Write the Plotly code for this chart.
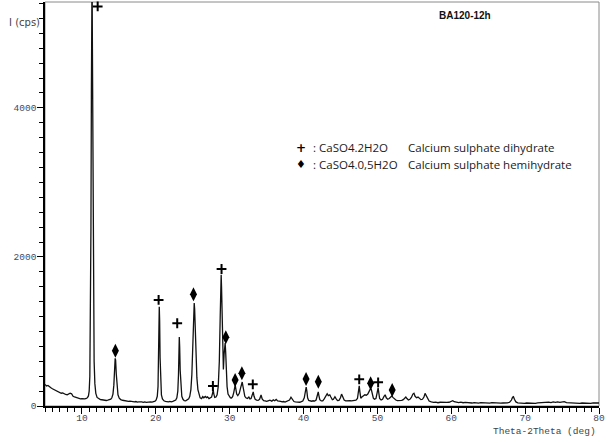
import plotly.graph_objects as go

# X-ray diffraction scan of sample BA120-12h: (2-theta in degrees, intensity in cps)
scan_05_12 = [
    (5.0, 290), (5.2, 268), (5.4, 275), (5.6, 252), (5.8, 244), (6.0, 231), (6.2, 222),
    (6.4, 211), (6.6, 205), (6.8, 189), (7.0, 183), (7.2, 171), (7.4, 176), (7.6, 161),
    (7.8, 155), (8.0, 149), (8.2, 158), (8.4, 172), (8.6, 164), (8.8, 131), (9.0, 121),
    (9.2, 113), (9.4, 106), (9.6, 101), (9.8, 96), (10.0, 99), (10.2, 92), (10.4, 95),
    (10.6, 101), (10.75, 112), (10.88, 135), (10.98, 200), (11.07, 400), (11.15, 1100),
    (11.22, 2400), (11.28, 4200), (11.33, 5600), (11.37, 5800), (11.42, 4800),
    (11.48, 2900), (11.55, 1400), (11.65, 600), (11.75, 300), (11.88, 170),
    (12.05, 115), (12.3, 92), (12.5, 86),
]
scan_12_21 = [
    (12.7, 84), (12.9, 78), (13.1, 81), (13.3, 74), (13.5, 78), (13.7, 83), (13.9, 91),
    (14.05, 110), (14.2, 160), (14.32, 280), (14.42, 480), (14.5, 640), (14.56, 615),
    (14.65, 430), (14.75, 250), (14.88, 150), (15.05, 105), (15.25, 86), (15.5, 77),
    (15.7, 72), (15.9, 66), (16.1, 70), (16.3, 62), (16.5, 64), (16.7, 58), (16.9, 61),
    (17.1, 55), (17.3, 60), (17.5, 52), (17.7, 56), (17.9, 50), (18.1, 54), (18.3, 49),
    (18.5, 55), (18.7, 48), (18.9, 52), (19.1, 50), (19.3, 56), (19.5, 52), (19.7, 58),
    (19.9, 64), (20.05, 80), (20.2, 130), (20.3, 260), (20.38, 600), (20.43, 1050),
    (20.47, 1330), (20.52, 1150), (20.58, 650), (20.66, 300), (20.76, 150), (20.9, 95),
]
scan_21_30 = [
    (21.1, 70), (21.3, 62), (21.5, 58), (21.7, 56), (21.9, 61), (22.1, 55), (22.3, 62),
    (22.5, 66), (22.7, 80), (22.85, 110), (22.98, 200), (23.07, 420), (23.13, 720),
    (23.18, 925), (23.23, 800), (23.3, 480), (23.4, 230), (23.52, 130), (23.68, 90),
    (23.85, 72), (24.05, 70), (24.25, 78), (24.45, 95), (24.6, 130), (24.75, 220),
    (24.88, 420), (24.98, 750), (25.07, 1100), (25.15, 1340), (25.2, 1380), (25.26, 1300),
    (25.35, 1000), (25.45, 650), (25.56, 380), (25.7, 220), (25.85, 140), (26.0, 110),
    (26.2, 100), (26.35, 125), (26.5, 110), (26.7, 128), (26.85, 112), (27.0, 122),
    (27.2, 100), (27.4, 110), (27.55, 120), (27.68, 170), (27.77, 215), (27.86, 160),
    (27.98, 115), (28.15, 120), (28.3, 150), (28.45, 260), (28.6, 600), (28.72, 1200),
    (28.8, 1650), (28.85, 1760), (28.9, 1600), (28.97, 1100), (29.05, 700), (29.15, 490),
    (29.25, 700), (29.33, 830), (29.39, 845), (29.46, 720), (29.55, 450), (29.65, 260),
    (29.78, 160), (29.95, 120),
]
scan_30_40 = [
    (30.1, 110), (30.25, 108), (30.4, 125), (30.55, 180), (30.68, 260), (30.75, 282),
    (30.82, 240), (30.95, 160), (31.1, 140), (31.3, 170), (31.5, 250), (31.62, 310),
    (31.7, 322), (31.77, 280), (31.9, 190), (32.05, 130), (32.2, 110), (32.4, 100),
    (32.6, 120), (32.75, 95), (32.9, 100), (33.05, 150), (33.19, 190), (33.3, 130),
    (33.45, 90), (33.65, 80), (33.85, 75), (34.05, 90), (34.25, 148), (34.4, 95),
    (34.6, 72), (34.8, 68), (35.0, 62), (35.2, 70), (35.45, 78), (35.7, 65), (35.9, 82),
    (36.1, 70), (36.3, 88), (36.5, 68), (36.7, 60), (36.9, 62), (37.1, 55), (37.3, 60),
    (37.5, 52), (37.7, 58), (37.9, 64), (38.1, 80), (38.3, 118), (38.5, 80), (38.7, 60),
    (38.9, 56), (39.1, 52), (39.3, 55), (39.5, 50), (39.7, 58), (39.9, 66),
]
scan_40_57 = [
    (40.1, 110), (40.25, 200), (40.36, 255), (40.45, 200), (40.55, 110), (40.7, 75),
    (40.9, 68), (41.1, 64), (41.3, 70), (41.5, 66), (41.7, 80), (41.85, 140), (41.99, 188),
    (42.08, 140), (42.2, 85), (42.4, 68), (42.6, 70), (42.8, 95), (43.0, 130), (43.2, 165),
    (43.35, 140), (43.55, 150), (43.7, 120), (43.9, 85), (44.05, 90), (44.25, 125),
    (44.4, 100), (44.6, 72), (44.8, 75), (45.0, 110), (45.15, 160), (45.3, 120), (45.5, 80),
    (45.7, 70), (45.9, 74), (46.1, 68), (46.3, 72), (46.5, 70), (46.7, 76), (46.9, 80),
    (47.1, 78), (47.3, 100), (47.45, 190), (47.54, 270), (47.63, 190), (47.75, 105),
    (47.9, 120), (48.1, 130), (48.3, 150), (48.5, 145), (48.7, 160), (48.9, 200),
    (49.08, 235), (49.17, 225), (49.3, 150), (49.45, 105), (49.6, 90), (49.8, 100),
    (49.97, 180), (50.1, 245), (50.2, 170), (50.3, 100), (50.5, 80), (50.7, 90),
    (50.9, 130), (51.05, 150), (51.2, 110), (51.4, 90), (51.6, 100), (51.8, 125),
    (51.95, 135), (52.1, 115), (52.3, 95), (52.5, 80), (52.7, 72), (52.9, 70), (53.1, 68),
    (53.3, 75), (53.5, 85), (53.7, 105), (53.85, 120), (54.0, 100), (54.2, 80), (54.4, 90),
    (54.6, 115), (54.8, 160), (54.95, 170), (55.1, 130), (55.3, 110), (55.5, 120),
    (55.7, 95), (55.9, 85), (56.1, 90), (56.3, 120), (56.45, 170), (56.6, 140), (56.8, 90),
    (57.0, 66),
]
scan_57_80 = [
    (57.3, 55), (57.6, 48), (57.9, 52), (58.2, 44), (58.5, 50), (58.8, 46), (59.1, 42),
    (59.4, 48), (59.7, 50), (60.0, 62), (60.2, 72), (60.4, 58), (60.7, 50), (61.0, 46),
    (61.3, 52), (61.6, 44), (61.9, 48), (62.2, 42), (62.5, 46), (62.8, 40), (63.1, 45),
    (63.4, 41), (63.7, 38), (64.0, 44), (64.3, 40), (64.6, 36), (64.9, 42), (65.2, 38),
    (65.5, 44), (65.8, 40), (66.1, 36), (66.4, 42), (66.7, 38), (67.0, 40), (67.3, 36),
    (67.6, 42), (67.9, 50), (68.15, 80), (68.3, 118), (68.42, 125), (68.55, 90),
    (68.75, 55), (69.0, 42), (69.3, 38), (69.6, 42), (69.9, 36), (70.2, 40), (70.5, 38),
    (70.8, 44), (71.1, 40), (71.4, 36), (71.7, 42), (72.0, 46), (72.3, 40), (72.6, 44),
    (72.9, 48), (73.2, 52), (73.5, 46), (73.8, 54), (74.1, 50), (74.4, 56), (74.7, 48),
    (75.0, 52), (75.3, 58), (75.6, 46), (75.9, 44), (76.2, 40), (76.5, 44), (76.8, 38),
    (77.1, 42), (77.4, 36), (77.7, 40), (78.0, 38), (78.3, 44), (78.6, 40), (78.9, 36),
    (79.2, 42), (79.5, 38), (79.8, 44), (80.0, 40),
]

# Phase identification marks (2-theta, height at which the symbol sits)
dihydrate_2theta = [12.13, 20.38, 22.9, 27.73, 28.9, 33.13, 47.54, 50.1]
dihydrate_mark_cps = [5360, 1423, 1110, 268, 1838, 291, 358, 318]
hemihydrate_2theta = [14.53, 25.1, 29.48, 30.74, 31.65, 40.34, 42.0, 49.08, 52.0]
hemihydrate_mark_cps = [742, 1499, 922, 349, 438, 362, 326, 304, 215]

scan = scan_05_12 + scan_12_21 + scan_21_30 + scan_30_40 + scan_40_57 + scan_57_80
two_theta = [p[0] for p in scan]
counts = [p[1] for p in scan]

fig = go.Figure()
fig.add_trace(go.Scatter(
    x=two_theta, y=counts, mode="lines",
    line=dict(color="#111111", width=1.3), hoverinfo="skip", showlegend=False,
))
fig.add_trace(go.Scatter(
    x=dihydrate_2theta, y=dihydrate_mark_cps, mode="markers",
    marker=dict(symbol="cross-thin", size=7, line=dict(color="#000000", width=2)),
    showlegend=False, cliponaxis=False,
))
fig.add_trace(go.Scatter(
    x=hemihydrate_2theta, y=hemihydrate_mark_cps, mode="markers",
    marker=dict(symbol="diamond-tall", size=10, color="#000000"),
    showlegend=False, cliponaxis=False,
))

L, R, T, B = 45, 13, 2, 37
W, H = 612, 443
pw, ph = W - L - R, H - T - B


def px(x):
    return (x - L) / pw


def py(y):
    return (H - B - y) / ph


tick_font = dict(family="Liberation Mono", size=9.5, color="#484860")
legend_font = dict(family="Open Sans", size=11.5, color="#1a1a1a")

annotations = [
    dict(text="I (cps)", x=px(42), y=py(22), xref="paper", yref="paper",
         xanchor="right", yanchor="middle", showarrow=False,
         font=dict(family="DejaVu Sans", size=10, color="#444444")),
    dict(text="<b>BA120-12h</b>", x=px(465), y=py(15), xref="paper", yref="paper",
         xanchor="center", yanchor="middle", showarrow=False,
         font=dict(family="Liberation Sans", size=10, color="#111111")),
    dict(text="Theta-2Theta (deg)", x=px(598), y=py(431), xref="paper", yref="paper",
         xanchor="right", yanchor="middle", showarrow=False,
         font=dict(family="Liberation Mono", size=9.5, color="#444444")),
    dict(text="<b>+</b>", x=px(300.5), y=py(147.5), xref="paper", yref="paper",
         xanchor="center", yanchor="middle", showarrow=False,
         font=dict(family="DejaVu Sans", size=12, color="#000000")),
    dict(text="♦", x=px(300.5), y=py(164), xref="paper", yref="paper",
         xanchor="center", yanchor="middle", showarrow=False,
         font=dict(family="DejaVu Sans", size=11, color="#000000")),
    dict(text=": CaSO4.2H2O", x=px(311), y=py(147.5), xref="paper", yref="paper",
         xanchor="left", yanchor="middle", showarrow=False, font=legend_font),
    dict(text=": CaSO4.0,5H2O", x=px(311), y=py(164), xref="paper", yref="paper",
         xanchor="left", yanchor="middle", showarrow=False, font=legend_font),
    dict(text="Calcium sulphate dihydrate", x=px(406), y=py(147.5), xref="paper",
         yref="paper", xanchor="left", yanchor="middle", showarrow=False, font=legend_font),
    dict(text="Calcium sulphate hemihydrate", x=px(406), y=py(164), xref="paper",
         yref="paper", xanchor="left", yanchor="middle", showarrow=False, font=legend_font),
]

fig.update_layout(
    width=W, height=H, autosize=False,
    margin=dict(l=L, r=R, t=T, b=B, pad=0),
    paper_bgcolor="white", plot_bgcolor="white",
    annotations=annotations,
    shapes=[dict(type="rect", xref="paper", yref="paper", x0=0, x1=1, y0=0, y1=1,
                 line=dict(color="#8a8a8a", width=1), layer="below")],
    xaxis=dict(
        range=[5, 80], tick0=0, dtick=10, showgrid=False, zeroline=False,
        showline=True, linecolor="#000000", linewidth=1.5,
        ticks="outside", ticklen=6, tickwidth=1, tickcolor="#000000",
        tickfont=tick_font, ticklabelstandoff=-4,
        minor=dict(dtick=1, tick0=0, ticks="outside", ticklen=4, tickcolor="#000000"),
    ),
    yaxis=dict(
        range=[0, 5420], tick0=0, dtick=2000, showgrid=False, zeroline=False,
        showline=True, linecolor="#000000", linewidth=1.5,
        ticks="outside", ticklen=6, tickwidth=1, tickcolor="#000000",
        tickfont=tick_font, tickformat="d", ticklabelstandoff=-1,
        minor=dict(dtick=200, tick0=0, ticks="outside", ticklen=4, tickcolor="#000000"),
    ),
)

fig.write_html("out.html")
